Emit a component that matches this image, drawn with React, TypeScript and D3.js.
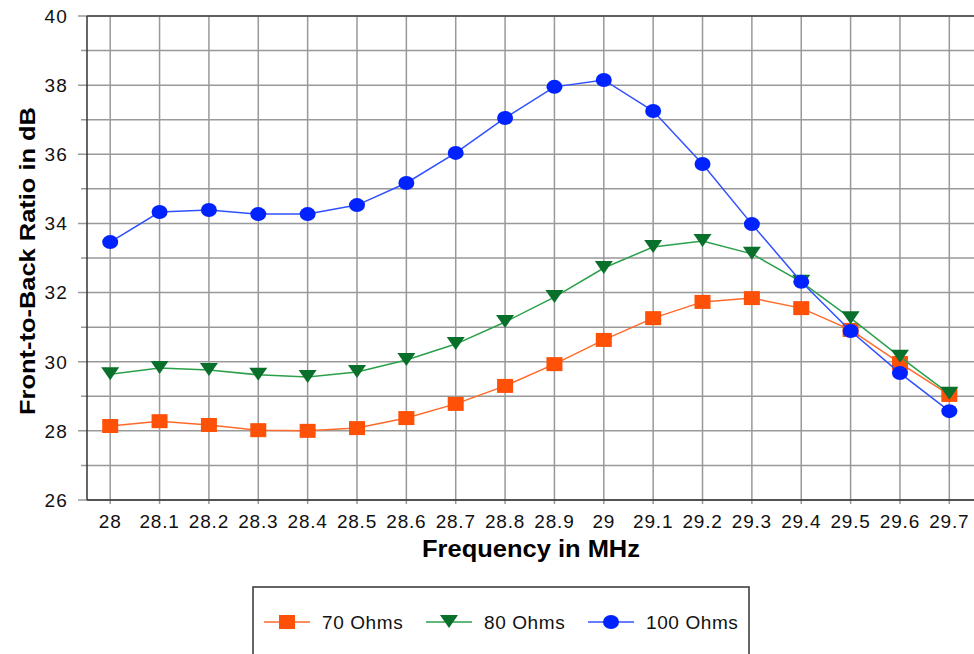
import React from 'react'
import * as d3 from 'd3'

const width = 974
const height = 654
const margin = { top: 16, right: 0, bottom: 154, left: 87 }

const freqs = [28, 28.1, 28.2, 28.3, 28.4, 28.5, 28.6, 28.7, 28.8, 28.9, 29, 29.1, 29.2, 29.3, 29.4, 29.5, 29.6, 29.7]
const freqLabels = ['28', '28.1', '28.2', '28.3', '28.4', '28.5', '28.6', '28.7', '28.8', '28.9', '29', '29.1', '29.2', '29.3', '29.4', '29.5', '29.6', '29.7']
const ohms70 = [28.14, 28.28, 28.17, 28.02, 28.0, 28.08, 28.37, 28.78, 29.3, 29.93, 30.63, 31.26, 31.73, 31.84, 31.55, 30.92, 29.96, 29.04]
const ohms80 = [29.64, 29.82, 29.76, 29.62, 29.56, 29.7, 30.05, 30.51, 31.15, 31.87, 32.71, 33.32, 33.49, 33.12, 32.31, 31.26, 30.14, 29.07]
const ohms100 = [33.46, 34.33, 34.39, 34.27, 34.27, 34.53, 35.17, 36.04, 37.05, 37.95, 38.15, 37.25, 35.72, 33.98, 32.31, 30.89, 29.67, 28.57]
const yTicks = [26, 28, 30, 32, 34, 36, 38, 40]
const yMinor = [27, 29, 31, 33, 35, 37, 39]

const series = [
  { name: '70 Ohms', values: ohms70, line: '#ff6a2a', fill: '#ff5008', shape: 'square' },
  { name: '80 Ohms', values: ohms80, line: '#2aa04a', fill: '#08702a', shape: 'tri' },
  { name: '100 Ohms', values: ohms100, line: '#3050ff', fill: '#0022ff', shape: 'circle' },
]

const font = 'Arial, "Liberation Sans", sans-serif'

const x = d3.scaleLinear().domain([27.953, 29.75]).range([margin.left, width - margin.right])
const y = d3.scaleLinear().domain([26, 40]).range([height - margin.bottom, margin.top])

const Marker = ({ shape, cx, cy, fill }: { shape: string; cx: number; cy: number; fill: string }) => {
  if (shape === 'square') return <rect x={cx - 8} y={cy - 7} width={16} height={14} fill={fill} />
  if (shape === 'tri') return <path d={`M${cx - 9},${cy - 7}L${cx + 9},${cy - 7}L${cx},${cy + 6}Z`} fill={fill} />
  return <ellipse cx={cx} cy={cy} rx={8} ry={7} fill={fill} />
}

const App = () => {
  const line = d3
    .line<number>()
    .x((d, i) => x(freqs[i]))
    .y(d => y(d))

  const plotBottom = height - margin.bottom
  const plotRight = width - margin.right

  return (
    <svg width={width} height={height} style={{ position: 'absolute', left: 0, top: 0, background: '#fff' }}>
      {/* grid */}
      {yMinor.concat(yTicks).map(t => (
        <line key={'h' + t} x1={yTicks.includes(t) ? margin.left - 9 : margin.left - 6} x2={plotRight} y1={y(t)} y2={y(t)} stroke="#999" strokeWidth={1.5} />
      ))}
      {freqs.map(f => (
        <line key={'v' + f} x1={x(f)} x2={x(f)} y1={margin.top} y2={plotBottom + 4} stroke="#999" strokeWidth={1.5} />
      ))}
      {/* frame */}
      <line x1={margin.left} x2={margin.left} y1={margin.top} y2={plotBottom} stroke="#333" strokeWidth={1.5} />
      <line x1={margin.left} x2={plotRight} y1={plotBottom} y2={plotBottom} stroke="#333" strokeWidth={1.5} />
      <line x1={margin.left} x2={plotRight} y1={margin.top} y2={margin.top} stroke="#444" strokeWidth={1.5} />

      {/* tick labels */}
      {yTicks.map(t => (
        <text key={'yl' + t} x={margin.left - 19} y={y(t)} dy="0.36em" textAnchor="end" fontFamily={font} fontSize={19} letterSpacing={1.2} fill="#111">
          {t}
        </text>
      ))}
      {freqs.map((f, i) => (
        <text key={'xl' + f} x={x(f)} y={plotBottom + 28} textAnchor="middle" fontFamily={font} fontSize={19} letterSpacing={0.8} fill="#111">
          {freqLabels[i]}
        </text>
      ))}

      {/* axis titles */}
      <text x={531} y={557} textAnchor="middle" fontFamily={font} fontSize={23} fontWeight="bold" fill="#000" textLength={218} lengthAdjust="spacingAndGlyphs">
        Frequency in MHz
      </text>
      <text transform={`translate(35,261) rotate(-90)`} textAnchor="middle" fontFamily={font} fontSize={22} fontWeight="bold" fill="#000" textLength={308} lengthAdjust="spacingAndGlyphs">
        Front-to-Back Ratio in dB
      </text>

      {/* series */}
      {series.map(s => (
        <g key={s.name}>
          <path d={line(s.values) || ''} fill="none" stroke={s.line} strokeWidth={1.5} />
          {s.values.map((v, i) => (
            <Marker key={i} shape={s.shape} cx={x(freqs[i])} cy={y(v)} fill={s.fill} />
          ))}
        </g>
      ))}

      {/* legend */}
      <rect x={253} y={587} width={496} height={80} fill="#fff" stroke="#333" strokeWidth={1.5} />
      {series.map((s, i) => {
        const lx = [264, 426, 588][i]
        return (
          <g key={'lg' + s.name}>
            <line x1={lx} x2={lx + 46} y1={622} y2={622} stroke={s.line} strokeWidth={1.5} />
            <Marker shape={s.shape} cx={lx + 23} cy={622} fill={s.fill} />
            <text x={lx + 58} y={622} dy="0.36em" fontFamily={font} fontSize={19} letterSpacing={0.6} fill="#111">
              {s.name}
            </text>
          </g>
        )
      })}
    </svg>
  )
}

export default App
